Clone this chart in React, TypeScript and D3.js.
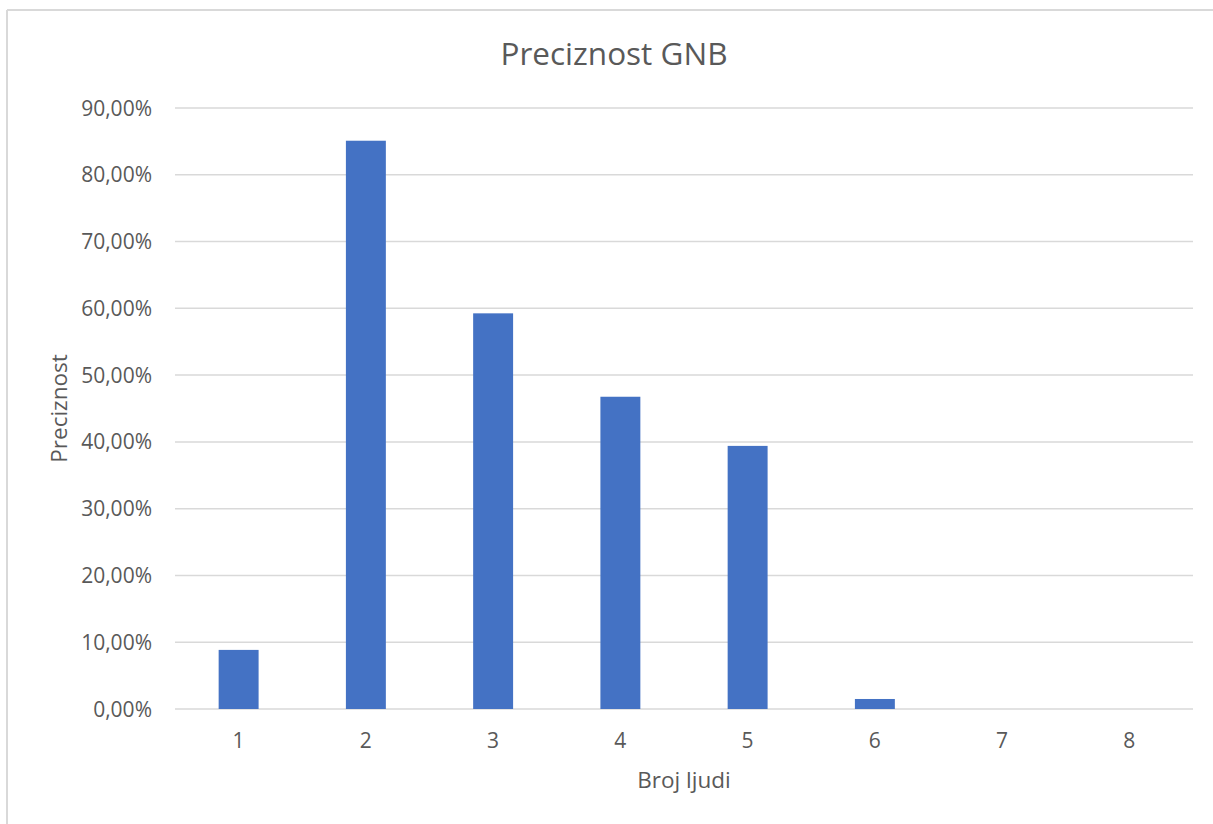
import React from "react";
import * as d3 from "d3";

const categories: string[] = ["1", "2", "3", "4", "5", "6", "7", "8"];
const values: number[] = [0.0885, 0.851, 0.5925, 0.4676, 0.394, 0.015, 0, 0];
const yTicks: number[] = [0, 0.1, 0.2, 0.3, 0.4, 0.5, 0.6, 0.7, 0.8, 0.9];
const title = "Preciznost GNB";
const xTitle = "Broj ljudi";
const yTitle = "Preciznost";

const W = 1213;
const H = 824;
const plot = { left: 175, right: 1193, top: 108, bottom: 709 };
const FONT = "'Open Sans', 'Noto Sans', sans-serif";
const TEXT = "#595959";
const GRID = "#d9d9d9";
const BAR = "#4472c4";

const fmt = (v: number) => (v * 100).toFixed(2).replace(".", ",") + "%";

export default function App() {
  const x = d3.scaleBand<string>().domain(categories).range([plot.left, plot.right]).padding(0);
  const y = d3.scaleLinear().domain([0, 0.9]).range([plot.bottom, plot.top]);
  const barW = x.bandwidth() * 0.314;

  return (
    <svg
      width={W}
      height={H}
      style={{ position: "absolute", left: 0, top: 0, background: "#fff" }}
      fontFamily={FONT}
    >
      <rect x={0} y={0} width={W} height={H} fill="#fff" />
      {/* chart border */}
      <line x1={7} y1={10} x2={W} y2={10} stroke={GRID} strokeWidth={2} />
      <line x1={7} y1={10} x2={7} y2={H} stroke={GRID} strokeWidth={2} />

      <text x={614} y={65} textAnchor="middle" fontSize={31.5} fill={TEXT}>
        {title}
      </text>

      {yTicks.map((t) => (
        <g key={t}>
          <line x1={plot.left} x2={plot.right} y1={y(t)} y2={y(t)} stroke={GRID} strokeWidth={1.5} />
          <text x={152} y={y(t)} dy="0.36em" textAnchor="end" fontSize={21} fill={TEXT}>
            {fmt(t)}
          </text>
        </g>
      ))}

      {categories.map((c, i) => {
        const cx = (x(c) ?? 0) + x.bandwidth() / 2;
        const v = values[i];
        return (
          <g key={c}>
            {v > 0 && (
              <rect
                x={cx - barW / 2}
                y={y(v)}
                width={barW}
                height={y(0) - y(v)}
                fill={BAR}
              />
            )}
            <text x={cx} y={748} textAnchor="middle" fontSize={21} fill={TEXT}>
              {c}
            </text>
          </g>
        );
      })}

      <text x={(plot.left + plot.right) / 2} y={788} textAnchor="middle" fontSize={22.5} fill={TEXT}>
        {xTitle}
      </text>
      <text
        transform={`translate(67, ${(plot.top + plot.bottom) / 2}) rotate(-90)`}
        textAnchor="middle"
        fontSize={22.5}
        fill={TEXT}
      >
        {yTitle}
      </text>
    </svg>
  );
}
